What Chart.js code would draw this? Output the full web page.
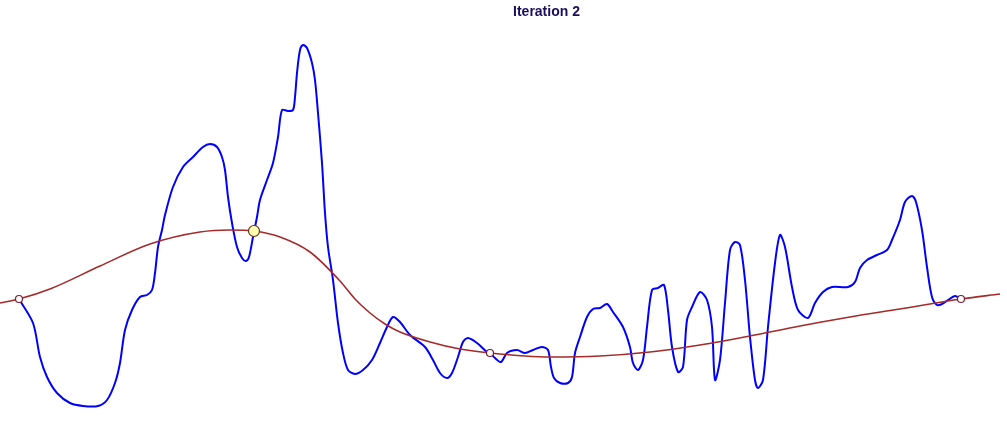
<!DOCTYPE html>
<html>
<head>
<meta charset="utf-8">
<script src="https://cdn.jsdelivr.net/npm/chart.js@4/dist/chart.umd.min.js"></script>
<style>
  html, body { margin: 0; padding: 0; background: #fff; }
  #wrap { width: 1007px; height: 441px; position: relative; }
</style>
</head>
<body>
<div id="wrap"><canvas id="canvas-chart"></canvas></div>
<script>
// objective (blue), sampled
var objX = [0.19,0.33,0.40,0.47,0.57,0.70,0.83,0.98,1.07,1.15,1.20,1.25,1.32,1.40,1.47,1.52,1.55,1.58,1.62,1.65,
    1.73,1.83,1.93,2.03,2.10,2.17,2.22,2.25,2.28,2.32,2.37,2.42,2.46,2.49,2.53,2.57,2.60,2.67,2.73,2.78,
    2.82,2.88,2.93,2.95,2.97,3.00,3.03,3.07,3.12,3.15,3.18,3.22,3.25,3.28,3.33,3.38,3.43,3.48,3.55,3.63,
    3.72,3.80,3.87,3.93,4.00,4.10,4.25,4.33,4.40,4.47,4.52,4.58,4.63,4.68,4.77,4.87,4.90,4.95,5.01,5.07,
    5.17,5.25,5.33,5.42,5.48,5.51,5.54,5.60,5.68,5.72,5.75,5.80,5.87,5.93,6.00,6.07,6.13,6.23,6.30,6.33,
    6.38,6.43,6.47,6.52,6.58,6.64,6.68,6.72,6.78,6.83,6.87,6.92,7.00,7.07,7.12,7.15,7.20,7.25,7.30,7.35,
    7.40,7.45,7.50,7.55,7.58,7.63,7.68,7.75,7.80,7.85,7.92,7.98,8.08,8.15,8.23,8.32,8.48,8.55,8.60,8.67,
    8.77,8.87,8.92,9.00,9.05,9.12,9.16,9.22,9.27,9.32,9.37,9.42,9.48,9.55,9.61];
var objY = [1.42,1.18,0.84,0.64,0.48,0.38,0.35,0.35,0.41,0.58,0.78,1.11,1.31,1.44,1.46,1.51,1.68,1.94,2.11,2.26,
    2.54,2.74,2.84,2.94,2.97,2.94,2.84,2.71,2.44,2.18,1.94,1.83,1.80,1.84,2.04,2.24,2.41,2.61,2.78,3.04,
    3.31,3.30,3.31,3.44,3.68,3.91,3.96,3.93,3.78,3.61,3.28,2.78,2.28,1.94,1.61,1.18,0.88,0.71,0.67,0.71,
    0.81,0.98,1.14,1.24,1.19,1.06,0.94,0.81,0.68,0.63,0.68,0.84,0.99,1.03,0.98,0.89,0.88,0.83,0.79,0.88,
    0.91,0.88,0.91,0.94,0.91,0.74,0.63,0.58,0.58,0.64,0.88,1.04,1.24,1.32,1.33,1.37,1.29,1.14,0.94,0.78,
    0.71,0.81,1.14,1.51,1.53,1.56,1.31,0.94,0.69,0.74,1.21,1.34,1.49,1.41,1.14,0.61,0.81,1.38,1.91,1.99,
    1.96,1.61,1.04,0.61,0.53,0.61,1.14,1.78,2.06,1.94,1.54,1.31,1.23,1.38,1.49,1.54,1.54,1.59,1.73,1.81,
    1.86,1.91,2.01,2.21,2.39,2.45,2.39,2.11,1.74,1.44,1.36,1.37,1.41,1.45,1.42];

// surrogate mean (red)
var fitX = [0.00,0.19,0.50,1.00,1.50,2.00,2.30,2.54,2.80,3.10,3.40,3.55,3.70,3.85,4.00,4.30,4.60,4.90,5.50,6.00,
    6.50,7.00,7.50,8.00,8.50,9.00,9.61,10.00];
var fitY = [1.38,1.42,1.52,1.75,1.97,2.09,2.11,2.10,2.04,1.89,1.60,1.42,1.28,1.17,1.09,0.99,0.92,0.88,0.84,0.85,
    0.89,0.96,1.05,1.15,1.24,1.32,1.42,1.47];

// sampled points; index 1 is the newest
var sampleX = [0.19, 2.54, 4.90, 9.61];
var sampleY = [1.42, 2.10, 0.88, 1.42];
var newest = 1;

function pts(xs, ys) {
    return xs.map(function (x, i) { return { x: x, y: ys[i] }; });
}

// shift the title box so it centres where the original one did
var titleShift = {
    id: 'titleShift',
    afterLayout: function (chart) {
        if (chart.titleBlock) {
            chart.titleBlock.left += 86;
        }
    }
};

var ctx = document.getElementById('canvas-chart').getContext('2d');
var chart = new Chart(ctx, {
    type: 'line',
    data: {
        datasets: [
            {
                data: pts(sampleX, sampleY),
                showLine: false,
                order: 0,
                pointRadius: sampleX.map(function (x, i) { return i == newest ? 5.5 : 3.5; }),
                pointBackgroundColor: sampleX.map(function (x, i) { return i == newest ? '#ffffb0' : '#ffffff'; }),
                pointBorderColor: sampleX.map(function (x, i) { return i == newest ? '#6b3320' : '#7a1f33'; }),
                pointBorderWidth: 1.2,
                clip: false,
            },
            {
                data: pts(fitX, fitY),
                order: 1,
                borderColor: '#a52a2a',
                borderWidth: 1.6,
                pointRadius: 0,
                cubicInterpolationMode: 'monotone',
                fill: false,
            },
            {
                data: pts(objX, objY),
                order: 2,
                borderColor: '#0000ff',
                borderWidth: 2,
                pointRadius: 0,
                tension: 0.3,
                fill: false,
            },
        ],
    },
    options: {
        responsive: true,
        maintainAspectRatio: false,
        animation: false,
        layout: { padding: 0, autoPadding: false },
        scales: {
            x: { type: 'linear', min: 0, max: 10.07, display: false },
            y: { type: 'linear', min: 0, max: 4.11, display: false },
        },
        plugins: {
            legend: { display: false },
            tooltip: { enabled: false },
            title: {
                display: true,
                text: 'Iteration 2',
                color: '#1b0e5e',
                font: { family: 'Arial, "Liberation Sans", sans-serif', size: 14, weight: 'bold', lineHeight: 1.2 },
                padding: { top: 4, bottom: 9.2 },
            },
        },
    },
    plugins: [titleShift],
});
</script>
</body>
</html>
